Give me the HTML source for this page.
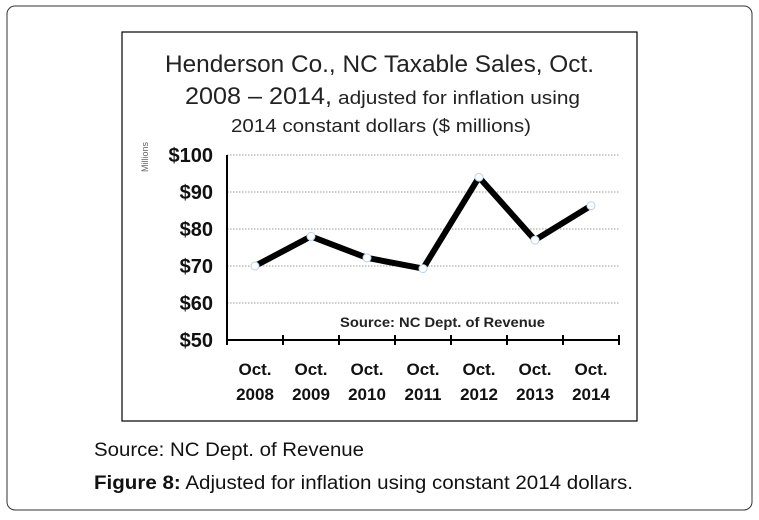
<!DOCTYPE html>
<html><head><meta charset="utf-8"><style>
body{margin:0;background:#fff;}
svg{display:block;font-family:"Liberation Sans",sans-serif;}
</style></head><body>
<svg width="759" height="520" viewBox="0 0 759 520">
<rect x="7" y="6" width="745" height="504" rx="8" fill="#fff" stroke="#333" stroke-width="1"/>
<rect x="122" y="32" width="515" height="389" fill="#fff" stroke="#000" stroke-width="1.2"/>
<text x="165" y="72" font-size="24" textLength="429" lengthAdjust="spacingAndGlyphs" fill="#222">Henderson Co., NC Taxable Sales, Oct.</text>
<text x="185" y="104" font-size="24" textLength="147" lengthAdjust="spacingAndGlyphs" fill="#222">2008 – 2014,</text>
<text x="338" y="104" font-size="18" textLength="242" lengthAdjust="spacingAndGlyphs" fill="#222">adjusted for inflation using</text>
<text x="231" y="132" font-size="18" textLength="300" lengthAdjust="spacingAndGlyphs" fill="#222">2014 constant dollars ($ millions)</text>
<text transform="translate(148,172) rotate(-90)" font-size="9" fill="#666">Millions</text>
<g id="grid"></g><g id="axes"></g><g id="series"></g>
<text x="340" y="327" font-size="14" font-weight="bold" textLength="205" lengthAdjust="spacingAndGlyphs" fill="#222">Source: NC Dept. of Revenue</text>
<text x="94" y="456" font-size="19" textLength="270" lengthAdjust="spacingAndGlyphs" fill="#111">Source: NC Dept. of Revenue</text>
<text x="94" y="489" font-size="19" textLength="539" lengthAdjust="spacingAndGlyphs" fill="#111"><tspan font-weight="bold">Figure 8:</tspan> Adjusted for inflation using constant 2014 dollars.</text>
</svg>
<script>
const categories=["2008","2009","2010","2011","2012","2013","2014"];
const values=[70,78,72.2,69.3,94,77,86.3];
const yTicks=[50,60,70,80,90,100];
const yTickLabels=["$50","$60","$70","$80","$90","$100"];
const NS="http://www.w3.org/2000/svg";
const x0=227,x1=619,yBase=340,yTop=155,yMin=50,yMax=100;
const bw=(x1-x0)/categories.length;
function xs(i){return x0+bw*(i+0.5);}
function ys(v){return yBase-(v-yMin)/(yMax-yMin)*(yBase-yTop);}
function mk(t,a,p){const e=document.createElementNS(NS,t);for(const k in a)e.setAttribute(k,a[k]);p.appendChild(e);return e;}
const grid=document.getElementById('grid'),axes=document.getElementById('axes'),series=document.getElementById('series');
yTicks.forEach((v,i)=>{
 if(v>yMin){const l=mk('line',{x1:x0,x2:x1,y1:ys(v),y2:ys(v),stroke:'#999','stroke-width':1,'stroke-dasharray':'1.5 1.5'},grid);
 
 }
 const t=mk('text',{x:213,y:ys(v)+7,'font-size':20,'font-weight':'bold','text-anchor':'end',fill:'#111'},axes);
 t.textContent=yTickLabels[i];
 
 
});
let a=mk('line',{x1:x0,x2:x0,y1:yTop,y2:yBase,stroke:'#000','stroke-width':2},axes);


a=mk('line',{x1:x0,x2:x1,y1:yBase,y2:yBase,stroke:'#000','stroke-width':2},axes);


for(let i=0;i<=categories.length;i++){
 const tk=mk('line',{x1:x0+bw*i,x2:x0+bw*i,y1:yBase-5,y2:yBase+5,stroke:'#000','stroke-width':2},axes);
 
 
}
categories.forEach((c,i)=>{
 const t1=mk('text',{x:xs(i),y:375,'font-size':17,'font-weight':'bold','text-anchor':'middle',fill:'#111'},axes);
 t1.textContent='Oct.';
 
 
 const t2=mk('text',{x:xs(i),y:400,'font-size':17,'font-weight':'bold','text-anchor':'middle',fill:'#111'},axes);
 t2.textContent=c;
 
 
});
const pl=mk('polyline',{points:values.map((v,i)=>xs(i)+','+ys(v)).join(' '),fill:'none',stroke:'#000','stroke-width':6,'stroke-linejoin':'round'},series);


values.forEach((v,i)=>{
 const c=mk('circle',{cx:xs(i),cy:ys(v),r:4,fill:'#fff',stroke:'#bcd3ea','stroke-width':1},series);
 
 
});
</script>
</body></html>
